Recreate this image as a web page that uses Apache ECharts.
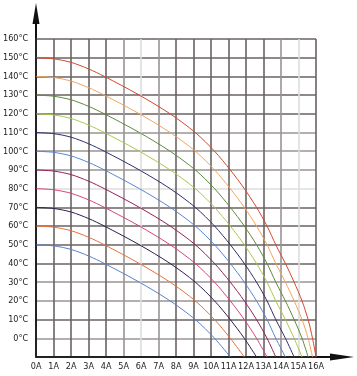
<!DOCTYPE html>
<html><head><meta charset="utf-8">
<script src="https://cdn.jsdelivr.net/npm/echarts@6/dist/echarts.min.js"></script>
<style>html,body{margin:0;padding:0;background:#fff}#c{width:357px;height:376px}</style>
</head><body><div id="c"></div>
<script>
// Current (A) sample positions
const currentA = [0, 1, 2, 3, 3.9, 5.9, 7.66, 9.1, 10.2, 11.1, 11.9, 12.6, 13.2, 13.7, 14.25, 14.75, 15.2, 15.55, 15.8, 16.0];
// Temperature (°C) of each curve at those currents
const t150 = [150, 149.4, 147.5, 144, 140, 130, 120, 110, 100, 90, 80, 70, 60, 50, 40, 30, 20, 10, 0, -10];
const t140 = [140, 139.4, 137.5, 134, 130, 120, 110, 100, 90, 80, 70, 60, 50, 40, 30, 20, 10, 0, -10];
const t130 = [130, 129.4, 127.5, 124, 120, 110, 100, 90, 80, 70, 60, 50, 40, 30, 20, 10, 0, -10];
const t120 = [120, 119.4, 117.5, 114, 110, 100, 90, 80, 70, 60, 50, 40, 30, 20, 10, 0, -10];
const t110 = [110, 109.4, 107.5, 104, 100, 90, 80, 70, 60, 50, 40, 30, 20, 10, 0, -10];
const t100 = [100, 99.4, 97.5, 94, 90, 80, 70, 60, 50, 40, 30, 20, 10, 0, -10];
const t90  = [90, 89.4, 87.5, 84, 80, 70, 60, 50, 40, 30, 20, 10, 0, -10];
const t80  = [80, 79.4, 77.5, 74, 70, 60, 50, 40, 30, 20, 10, 0, -10];
const t70  = [70, 69.4, 67.5, 64, 60, 50, 40, 30, 20, 10, 0, -10];
const t60  = [60, 59.4, 57.5, 54, 50, 40, 30, 20, 10, 0, -10];
const t50  = [50, 49.4, 47.5, 44, 40, 30, 20, 10, 0, -10];
const curves = [t150, t140, t130, t120, t110, t100, t90, t80, t70, t60, t50];
const curveColors = ['#d4482c', '#f2a45e', '#5f8a3c', '#a8c84c', '#2e2e6e', '#5b86cc', '#94205c', '#d6427c', '#2a2250', '#e8703a', '#5a80c8'];
// Tick labels
const xTicks = ['0A','1A','2A','3A','4A','5A','6A','7A','8A','9A','10A','11A','12A','13A','14A','15A','16A'];
const yTicks = [0,10,20,30,40,50,60,70,80,90,100,110,120,130,140,150,160];

const D = '#6a6262', M = '#9a9494', L = '#dedede';
const vGridColors = ['#222', D, D, D, D, M, L, M, D, D, D, D, D, D, M, L, D];
const hGridColors = ['#222', M, D, M, M, D, D, D, D, L, M, M, M, D, D, D, D, D];

const font = '"Liberation Sans Narrow", "DejaVu Sans Condensed", "Roboto Condensed", "Open Sans Condensed", sans-serif';
const chart = echarts.init(document.getElementById('c'), null, {renderer: 'canvas'});
chart.setOption({
  animation: false,
  backgroundColor: '#fff',
  grid: {left: 36, right: 41, top: 39, bottom: 19},
  xAxis: {
    type: 'value', min: 0, max: 16, interval: 1,
    axisLine: {show: true, onZero: false, lineStyle: {color: '#222', width: 2}},
    axisTick: {show: false},
    splitLine: {show: true, lineStyle: {color: vGridColors, width: 1.6}},
    axisLabel: {margin: 5, fontSize: 9, color: '#222', fontFamily: font,
      showMinLabel: true, showMaxLabel: true, hideOverlap: false,
      formatter: v => xTicks[Math.round(v)] || ''}
  },
  yAxis: {
    type: 'value', min: -10, max: 160, interval: 10,
    axisLine: {show: true, onZero: false, lineStyle: {color: '#222', width: 2}},
    axisTick: {show: false},
    splitLine: {show: true, lineStyle: {color: hGridColors, width: 1.6}},
    axisLabel: {margin: 8, fontSize: 9, color: '#222', fontFamily: font,
      formatter: v => yTicks.indexOf(v) >= 0 ? v + '°C' : ''}
  },
  series: curves.map((temps, i) => ({
    type: 'line',
    data: temps.map((t, k) => [currentA[k], t]),
    smooth: 0.3,
    showSymbol: false,
    lineStyle: {color: curveColors[i], width: 1},
    z: 5
  })),
  graphic: [
    {type: 'line', shape: {x1: 36, y1: 40, x2: 36, y2: 20}, style: {stroke: '#111', lineWidth: 2}},
    {type: 'polygon', shape: {points: [[36, 3], [32.5, 24], [39.5, 24]]}, style: {fill: '#111'}},
    {type: 'line', shape: {x1: 315, y1: 357, x2: 335, y2: 357}, style: {stroke: '#111', lineWidth: 2}},
    {type: 'polygon', shape: {points: [[354, 357], [330, 353.5], [330, 360.5]]}, style: {fill: '#111'}}
  ]
});
</script></body></html>
